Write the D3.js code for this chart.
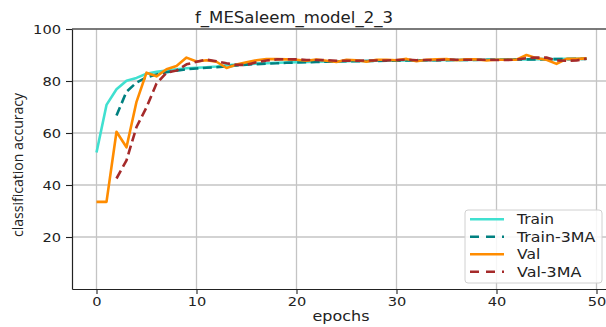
<!DOCTYPE html>
<html><head><meta charset="utf-8">
<script src="https://cdn.jsdelivr.net/npm/d3@7"></script>
<style>body{margin:0;background:#fff;}svg{display:block;}</style>
</head><body>
<script>
const title = "f_MESaleem_model_2_3";
const xLabel = "epochs";
const yLabel = "classification accuracy";
const epochs = d3.range(0, 50);
const train = [52.5,70.8,76.8,80.1,81.2,82.8,83.5,84.0,84.5,84.9,85.1,85.3,85.6,86.0,86.3,86.5,86.7,86.8,87.0,87.1,87.2,87.3,87.4,87.5,87.6,87.6,87.7,87.7,87.8,87.8,87.9,87.9,88.0,88.0,88.0,88.1,88.1,88.1,88.2,88.2,88.2,88.3,88.3,88.3,88.4,88.4,88.4,88.5,88.5,88.6];
const train3MA = [null,null,66.7,75.9,79.4,81.4,82.5,83.4,84.0,84.5,84.8,85.1,85.3,85.6,86.0,86.3,86.5,86.7,86.8,87.0,87.1,87.2,87.3,87.4,87.5,87.6,87.6,87.7,87.7,87.8,87.8,87.9,87.9,88.0,88.0,88.0,88.1,88.1,88.1,88.2,88.2,88.2,88.3,88.3,88.3,88.4,88.4,88.4,88.5,88.5];
const val = [33.5,33.5,60.5,54.5,72.0,83.2,81.8,84.5,85.8,89.0,87.5,88.0,87.4,85.0,86.3,87.2,88.0,88.4,88.4,88.3,88.2,87.8,88.3,87.8,87.3,88.2,88.0,87.4,88.2,88.2,88.0,88.5,87.6,88.2,88.3,88.4,88.0,88.3,88.3,87.9,88.2,88.2,88.2,90.0,88.8,88.2,86.6,88.5,88.5,88.7];
const val3MA = [null,null,42.5,49.5,62.3,69.9,79.0,83.2,84.0,86.4,87.4,88.2,87.6,86.8,86.2,86.2,87.2,87.9,88.3,88.4,88.3,88.1,88.1,88.0,87.8,87.8,87.8,87.9,87.9,87.9,88.1,88.2,88.0,88.1,88.0,88.3,88.2,88.2,88.2,88.2,88.1,88.1,88.2,88.8,89.0,89.0,87.9,87.8,87.9,88.6];
const xTicks = [0,10,20,30,40,50];
const yTicks = [20,40,60,80,100];
const seriesNames = ["Train","Train-3MA","Val","Val-3MA"];

const W = 606, H = 327;
const svg = d3.select("body").append("svg").attr("width", W).attr("height", H);
const pL = 72, pR = 611, pT = 29, pB = 289;
const x = d3.scaleLinear().domain([-2.45, 51.45]).range([pL, pR]);
const y = d3.scaleLinear().domain([0, 100]).range([pB, pT]);

svg.append("defs").append("clipPath").attr("id","clip")
  .append("rect").attr("x", pL).attr("y", pT).attr("width", pR-pL).attr("height", pB-pT);

// grid
const grid = svg.append("g");
grid.selectAll("line.gx").data(xTicks).join("line")
  .attr("x1", d=>x(d)).attr("x2", d=>x(d)).attr("y1", pT).attr("y2", pB)
  .attr("stroke", "#c4c4c4").attr("stroke-width", 1.3);
grid.selectAll("line.gy").data(yTicks).join("line")
  .attr("x1", pL).attr("x2", pR).attr("y1", d=>y(d)).attr("y2", d=>y(d))
  .attr("stroke", "#c4c4c4").attr("stroke-width", 1.3);

// lines
const series = [
  {name: seriesNames[0], data: train, color: "#40E0D0", dash: null},
  {name: seriesNames[1], data: train3MA, color: "#008080", dash: "9,4.5"},
  {name: seriesNames[2], data: val, color: "#FF8C00", dash: null},
  {name: seriesNames[3], data: val3MA, color: "#A52A2A", dash: "9,4.5"}
];
const line = d3.line().defined(d => d[1] != null).x(d => x(d[0])).y(d => y(d[1]));
const lg = svg.append("g").attr("clip-path", "url(#clip)");
series.forEach(s => {
  lg.append("path").datum(epochs.map((e,i)=>[e, s.data[i]]))
    .attr("d", line).attr("fill","none").attr("stroke", s.color)
    .attr("stroke-width", 2.6).attr("stroke-linejoin","round")
    .attr("stroke-dasharray", s.dash);
});

// axes
const xAxis = svg.append("g").attr("transform", `translate(0,${pB})`)
  .call(d3.axisBottom(x).tickValues(xTicks).tickSize(5).tickSizeOuter(0).tickPadding(3).tickFormat(d3.format("d")));
const yAxis = svg.append("g").attr("transform", `translate(${pL},0)`)
  .call(d3.axisLeft(y).tickValues(yTicks).tickSize(6).tickSizeOuter(0).tickPadding(5).tickFormat(d3.format("d")));
[xAxis, yAxis].forEach(a => {
  a.select(".domain").attr("stroke", "#222").attr("stroke-width", 1.2);
  a.selectAll(".tick line").attr("stroke", "#222").attr("stroke-width", 1.1);
  a.selectAll("text").attr("font-family", "DejaVu Sans").attr("font-size", 13).attr("fill", "#222")
    .attr("lengthAdjust", "spacingAndGlyphs")
    .attr("textLength", d => String(d).length * 9.3);
});
xAxis.selectAll("text").attr("dy", "0.72em");
// top spine
svg.append("line").attr("x1", pL).attr("x2", pR).attr("y1", pT).attr("y2", pT)
  .attr("stroke", "#222").attr("stroke-width", 1.2);

// title
svg.append("text").attr("x", 294).attr("y", 22.5).attr("text-anchor", "middle")
  .attr("font-family", "DejaVu Sans").attr("font-size", 15).attr("fill", "#222")
  .attr("textLength", 198).attr("lengthAdjust", "spacingAndGlyphs").text(title);
// x label
svg.append("text").attr("x", 341).attr("y", 321).attr("text-anchor", "middle")
  .attr("font-family", "DejaVu Sans").attr("font-size", 13.5).attr("fill", "#222")
  .attr("textLength", 57).attr("lengthAdjust", "spacingAndGlyphs").text(xLabel);
// y label
svg.append("text").attr("transform", "translate(23,165) rotate(-90)").attr("text-anchor", "middle")
  .attr("font-family", "Open Sans").attr("font-size", 14.5).attr("fill", "#222")
  .attr("textLength", 144).attr("lengthAdjust", "spacingAndGlyphs").text(yLabel);

// legend
const leg = svg.append("g");
leg.append("rect").attr("x", 465).attr("y", 210).attr("width", 137).attr("height", 73)
  .attr("rx", 3).attr("fill", "#fff").attr("fill-opacity", 0.85).attr("stroke", "#d0d0d0").attr("stroke-width", 1);
const legY = [219.3, 236.8, 254.3, 271.7];
const legW = [37, 78.3, 23.3, 64.3];
series.forEach((s, i) => {
  leg.append("line").attr("x1", 470).attr("x2", 504).attr("y1", legY[i]).attr("y2", legY[i])
    .attr("stroke", s.color).attr("stroke-width", 2.6).attr("stroke-dasharray", s.dash ? "9,7" : null);
  leg.append("text").attr("x", 517).attr("y", legY[i]).attr("dy", "0.36em")
    .attr("font-family", "DejaVu Sans").attr("font-size", 14).attr("fill", "#222")
    .attr("textLength", legW[i]).attr("lengthAdjust", "spacingAndGlyphs").text(s.name);
});
</script>
</body></html>
